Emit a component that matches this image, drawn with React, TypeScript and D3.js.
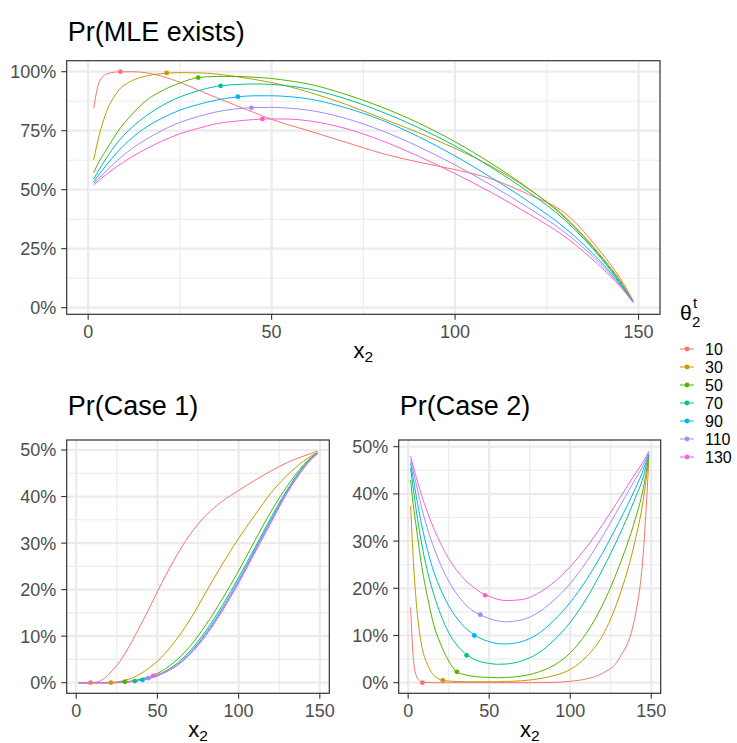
import React from "react";
import * as d3 from "d3";

// ---------------- data ----------------
const thetaLevels = ["10", "30", "50", "70", "90", "110", "130"];
const seriesColors = ["#F8766D", "#C49A00", "#53B400", "#00C094", "#00B6EB", "#A58AFF", "#FB61D7"];

const xGrid = [1.5, 3, 5, 8, 12, 16, 20, 25, 30, 35, 40, 45, 50, 55, 60, 70, 80, 90, 100, 110, 120, 130, 140, 145, 148.5];

// Pr(MLE exists), percent
const mle10 = [84.5, 95.5, 99, 99.9, 100, 99.5, 98.1, 95.5, 92.2, 89, 85.9, 82.8, 79.8, 77.3, 75, 70.2, 65.4, 61.7, 58.5, 54.5, 48, 40, 23, 12.5, 3];
const mle30 = [62.6, 73, 83, 91.5, 96.2, 98.2, 99.2, 99.6, 99.5, 99, 98, 96.8, 95.4, 93.6, 91.4, 86.3, 80.3, 74.2, 67.5, 59.8, 50.3, 38.5, 21.5, 11.5, 2.7];
const mle50 = [57.2, 62, 67, 74.5, 82, 88, 91.8, 95.2, 97.5, 98, 98, 97.7, 97.1, 96.1, 94.8, 90.5, 85, 78.3, 70.3, 61, 50.5, 38, 21, 11, 2.6];
const mle70 = [54.5, 58.5, 63.5, 70, 76.5, 81.5, 85.5, 89.3, 91.9, 93.8, 94.5, 94.8, 94.6, 93.9, 92.7, 88.6, 83, 76.3, 68.5, 59.3, 49, 37, 20.5, 10.5, 2.5];
const mle90 = [53.4, 56.5, 60.5, 66, 72, 76.7, 80.2, 83.7, 86.1, 88, 89.2, 89.8, 89.8, 89.4, 88.5, 84.8, 79.5, 72.5, 64.3, 55, 45, 33.7, 19, 10, 2.4];
const mle110 = [52.7, 55, 58, 62.5, 67.5, 71.5, 75, 78.5, 81, 83, 84.2, 84.8, 84.9, 84.5, 83.7, 80.3, 75, 68.3, 60.5, 51.8, 42.3, 31.8, 18, 9.5, 2.3];
const mle130 = [52, 54, 56.5, 60, 64, 67.5, 70.5, 73.7, 76, 78, 79, 79.7, 80, 79.9, 79.2, 76, 70.8, 64.2, 56.8, 48.7, 39.8, 30, 16.8, 9, 2.2];

// Pr(Case 1), percent
const case1_10 = [0, 0, 0, 0, 0.1, 0.6, 1.8, 3.7, 6.2, 9.3, 12.6, 16, 19.6, 23, 26.2, 31.8, 36, 39, 41.3, 43.5, 45.5, 47.3, 48.7, 49.3, 49.8];
const case1_30 = [0, 0, 0, 0, 0, 0, 0.02, 0.15, 0.5, 1.1, 2, 3.2, 4.6, 6.4, 8.5, 13.5, 19.5, 25.5, 31, 36, 40.8, 44.6, 47.6, 48.8, 49.5];
const case1_50 = [0, 0, 0, 0, 0, 0, 0, 0.05, 0.2, 0.4, 0.8, 1.3, 2, 3, 4.3, 7.8, 12.5, 18, 24, 30.5, 36.8, 42.3, 46.8, 48.5, 49.4];
const case1_70 = [0, 0, 0, 0, 0, 0, 0, 0.03, 0.12, 0.3, 0.6, 1, 1.6, 2.5, 3.6, 6.8, 11.2, 16.6, 22.6, 29, 35.5, 41.5, 46.5, 48.4, 49.3];
const case1_90 = [0, 0, 0, 0, 0, 0, 0, 0.02, 0.1, 0.28, 0.55, 0.9, 1.45, 2.3, 3.3, 6.4, 10.7, 16, 22, 28.5, 35, 41.2, 46.3, 48.3, 49.2];
const case1_110 = [0, 0, 0, 0, 0, 0, 0, 0.02, 0.1, 0.28, 0.55, 1, 1.5, 2.25, 3.2, 6.2, 10.4, 15.7, 21.7, 28.2, 34.7, 41, 46.2, 48.2, 49.2];
const case1_130 = [0, 0, 0, 0, 0, 0, 0, 0.02, 0.1, 0.28, 0.55, 1.1, 1.75, 2.3, 3.2, 6.1, 10.2, 15.4, 21.4, 27.9, 34.4, 40.8, 46, 48.1, 49.1];

// Pr(Case 2), percent
const case2_10 = [16, 6, 1.5, 0.2, 0.05, 0, 0, 0, 0, 0, 0, 0, 0, 0, 0, 0, 0, 0.05, 0.3, 0.8, 2, 5, 14, 27, 47];
const case2_30 = [37.5, 27, 17, 8.5, 3.8, 1.5, 0.65, 0.35, 0.25, 0.2, 0.2, 0.2, 0.2, 0.2, 0.25, 0.4, 0.8, 1.5, 2.8, 5.5, 10, 18, 30, 38.5, 47.5];
const case2_50 = [43, 38, 33, 25.5, 18, 12, 8.2, 4.6, 2.3, 1.7, 1.35, 1.2, 1.1, 1.05, 1.1, 1.4, 2.2, 3.7, 6.3, 10.5, 16.5, 24.5, 34.5, 41, 48];
const case2_70 = [45.4, 41.5, 36.5, 30, 23.5, 18.5, 14.5, 10.6, 8, 6.2, 5.1, 4.4, 4.1, 3.9, 3.95, 4.6, 6.2, 9, 12.8, 17.8, 24, 31, 39, 43.5, 48.3];
const case2_90 = [46.5, 43.5, 39.5, 34, 28, 23.3, 19.8, 16.3, 13.7, 11.7, 10.3, 9.3, 8.7, 8.3, 8.2, 8.7, 10.3, 13.2, 17, 21.8, 27.5, 34, 41, 45, 48.5];
const case2_110 = [47.2, 45, 42, 37.5, 32.5, 28.5, 25, 21.5, 18.8, 16.7, 15.2, 14.3, 13.6, 13.1, 12.9, 13.3, 14.8, 17.5, 21, 25.6, 31, 37, 43, 46, 48.8];
const case2_130 = [48, 46, 43.5, 40, 36, 32.5, 29.5, 26.3, 23.8, 21.8, 20.3, 19.1, 18.3, 17.7, 17.4, 17.6, 18.9, 21.3, 24.6, 28.7, 33.5, 38.8, 44.2, 46.8, 49];

// highlighted points (one per theta)
const pointX = [8.8, 21.4, 30.0, 36.1, 40.8, 44.5, 47.5];
const pointMle = [100, 99.5, 97.5, 94, 89.4, 84.7, 80];
const pointCase1 = [0, 0.03, 0.2, 0.35, 0.6, 1.0, 1.5];
const pointCase2 = [0, 0.5, 2.3, 5.8, 10, 14.4, 18.5];

const xTicks = [0, 50, 100, 150];
const xMinor = [25, 75, 125];
const mleYTicks = [0, 25, 50, 75, 100];
const mleYMinor = [12.5, 37.5, 62.5, 87.5];
const caseYTicks = [0, 10, 20, 30, 40, 50];
const caseYMinor = [5, 15, 25, 35, 45];

// ---------------- drawing ----------------
const FONT = "'Liberation Sans', Arial, Helvetica, sans-serif";
const GRID = "#EBEBEB";
const AXIS_TEXT = "#4D4D4D";
const DARK = "#333333";

type PanelDef = {
  title: string;
  titleY: number;
  left: number; right: number; top: number; bottom: number;
  yDomain: [number, number];
  yTicks: number[]; yMinor: number[];
  series: number[][];
  points: number[];
};

const panels: PanelDef[] = [
  {
    title: "Pr(MLE exists)",
    titleY: 41,
    left: 66.7, right: 660, top: 60.7, bottom: 314.3,
    yDomain: [-2.8, 104.66],
    yTicks: mleYTicks, yMinor: mleYMinor,
    series: [mle10, mle30, mle50, mle70, mle90, mle110, mle130],
    points: pointMle,
  },
  {
    title: "Pr(Case 1)",
    titleY: 415,
    left: 66.7, right: 329.3, top: 440, bottom: 693.3,
    yDomain: [-2.28, 52.15],
    yTicks: caseYTicks, yMinor: caseYMinor,
    series: [case1_10, case1_30, case1_50, case1_70, case1_90, case1_110, case1_130],
    points: pointCase1,
  },
  {
    title: "Pr(Case 2)",
    titleY: 415,
    left: 398.7, right: 660.7, top: 440, bottom: 693.3,
    yDomain: [-2.25, 51.42],
    yTicks: caseYTicks, yMinor: caseYMinor,
    series: [case2_10, case2_30, case2_50, case2_70, case2_90, case2_110, case2_130],
    points: pointCase2,
  },
];

function Panel({ p }: { p: PanelDef }) {
  const x = d3.scaleLinear().domain([-5.85, 155.85]).range([p.left, p.right]);
  const y = d3.scaleLinear().domain(p.yDomain).range([p.bottom, p.top]);
  const line = d3
    .line<number>()
    .x((_, i) => x(xGrid[i]))
    .y((d) => y(d))
    .curve(d3.curveMonotoneX);
  const cx = (p.left + p.right) / 2;
  return (
    <g>
      <text x={p.left + 1} y={p.titleY} fontFamily={FONT} fontSize={27} fill="#000">
        {p.title}
      </text>
      <rect x={p.left} y={p.top} width={p.right - p.left} height={p.bottom - p.top} fill="#fff" />
      {p.yMinor.map((v) => (
        <line key={"ym" + v} x1={p.left} x2={p.right} y1={y(v)} y2={y(v)} stroke={GRID} strokeWidth={1.1} />
      ))}
      {xMinor.map((v) => (
        <line key={"xm" + v} x1={x(v)} x2={x(v)} y1={p.top} y2={p.bottom} stroke={GRID} strokeWidth={1.1} />
      ))}
      {p.yTicks.map((v) => (
        <line key={"yM" + v} x1={p.left} x2={p.right} y1={y(v)} y2={y(v)} stroke={GRID} strokeWidth={2.2} />
      ))}
      {xTicks.map((v) => (
        <line key={"xM" + v} x1={x(v)} x2={x(v)} y1={p.top} y2={p.bottom} stroke={GRID} strokeWidth={2.2} />
      ))}
      {p.series.map((s, i) => (
        <path key={"s" + i} d={line(s) || ""} fill="none" stroke={seriesColors[i]} strokeWidth={1} />
      ))}
      {p.points.map((v, i) => (
        <circle key={"p" + i} cx={x(pointX[i])} cy={y(v)} r={2.4} fill={seriesColors[i]} />
      ))}
      <rect x={p.left} y={p.top} width={p.right - p.left} height={p.bottom - p.top} fill="none" stroke={DARK} strokeWidth={1.2} />
      {p.yTicks.map((v) => (
        <g key={"yt" + v}>
          <line x1={p.left - 5.5} x2={p.left} y1={y(v)} y2={y(v)} stroke={DARK} strokeWidth={1.1} />
          <text x={p.left - 10.5} y={y(v)} dy="0.36em" textAnchor="end" fontFamily={FONT} fontSize={18} fill={AXIS_TEXT}>
            {v + "%"}
          </text>
        </g>
      ))}
      {xTicks.map((v) => (
        <g key={"xt" + v}>
          <line x1={x(v)} x2={x(v)} y1={p.bottom} y2={p.bottom + 5.5} stroke={DARK} strokeWidth={1.1} />
          <text x={x(v)} y={p.bottom + 24} textAnchor="middle" fontFamily={FONT} fontSize={18} fill={AXIS_TEXT}>
            {v}
          </text>
        </g>
      ))}
      <text x={cx} y={p.bottom + 44} textAnchor="middle" fontFamily={FONT} fontSize={22} fill="#000">
        x
        <tspan fontSize={15.5} dy={3.5}>2</tspan>
      </text>
    </g>
  );
}

function Legend() {
  const top = 349;
  const step = 18;
  return (
    <g>
      <text x={680} y={320} fontFamily={FONT} fontSize={21} fill="#000">θ</text>
      <text x={692} y={327} fontFamily={FONT} fontSize={15} fill="#000">2</text>
      <text x={693} y={308} fontFamily={FONT} fontSize={15} fill="#000">t</text>
      {thetaLevels.map((lab, i) => {
        const cy = top + i * step;
        return (
          <g key={lab}>
            <line x1={680} x2={694} y1={cy} y2={cy} stroke={seriesColors[i]} strokeWidth={1} />
            <circle cx={687} cy={cy} r={2.4} fill={seriesColors[i]} />
            <text x={705} y={cy} dy="0.36em" fontFamily={FONT} fontSize={16} fill="#000">
              {lab}
            </text>
          </g>
        );
      })}
    </g>
  );
}

export default function App() {
  return (
    <svg
      width={737}
      height={743}
      viewBox="0 0 737 743"
      style={{ position: "absolute", left: 0, top: 0, background: "#fff" }}
    >
      <rect x={0} y={0} width={737} height={743} fill="#fff" />
      {panels.map((p) => (
        <Panel key={p.title} p={p} />
      ))}
      <Legend />
    </svg>
  );
}
